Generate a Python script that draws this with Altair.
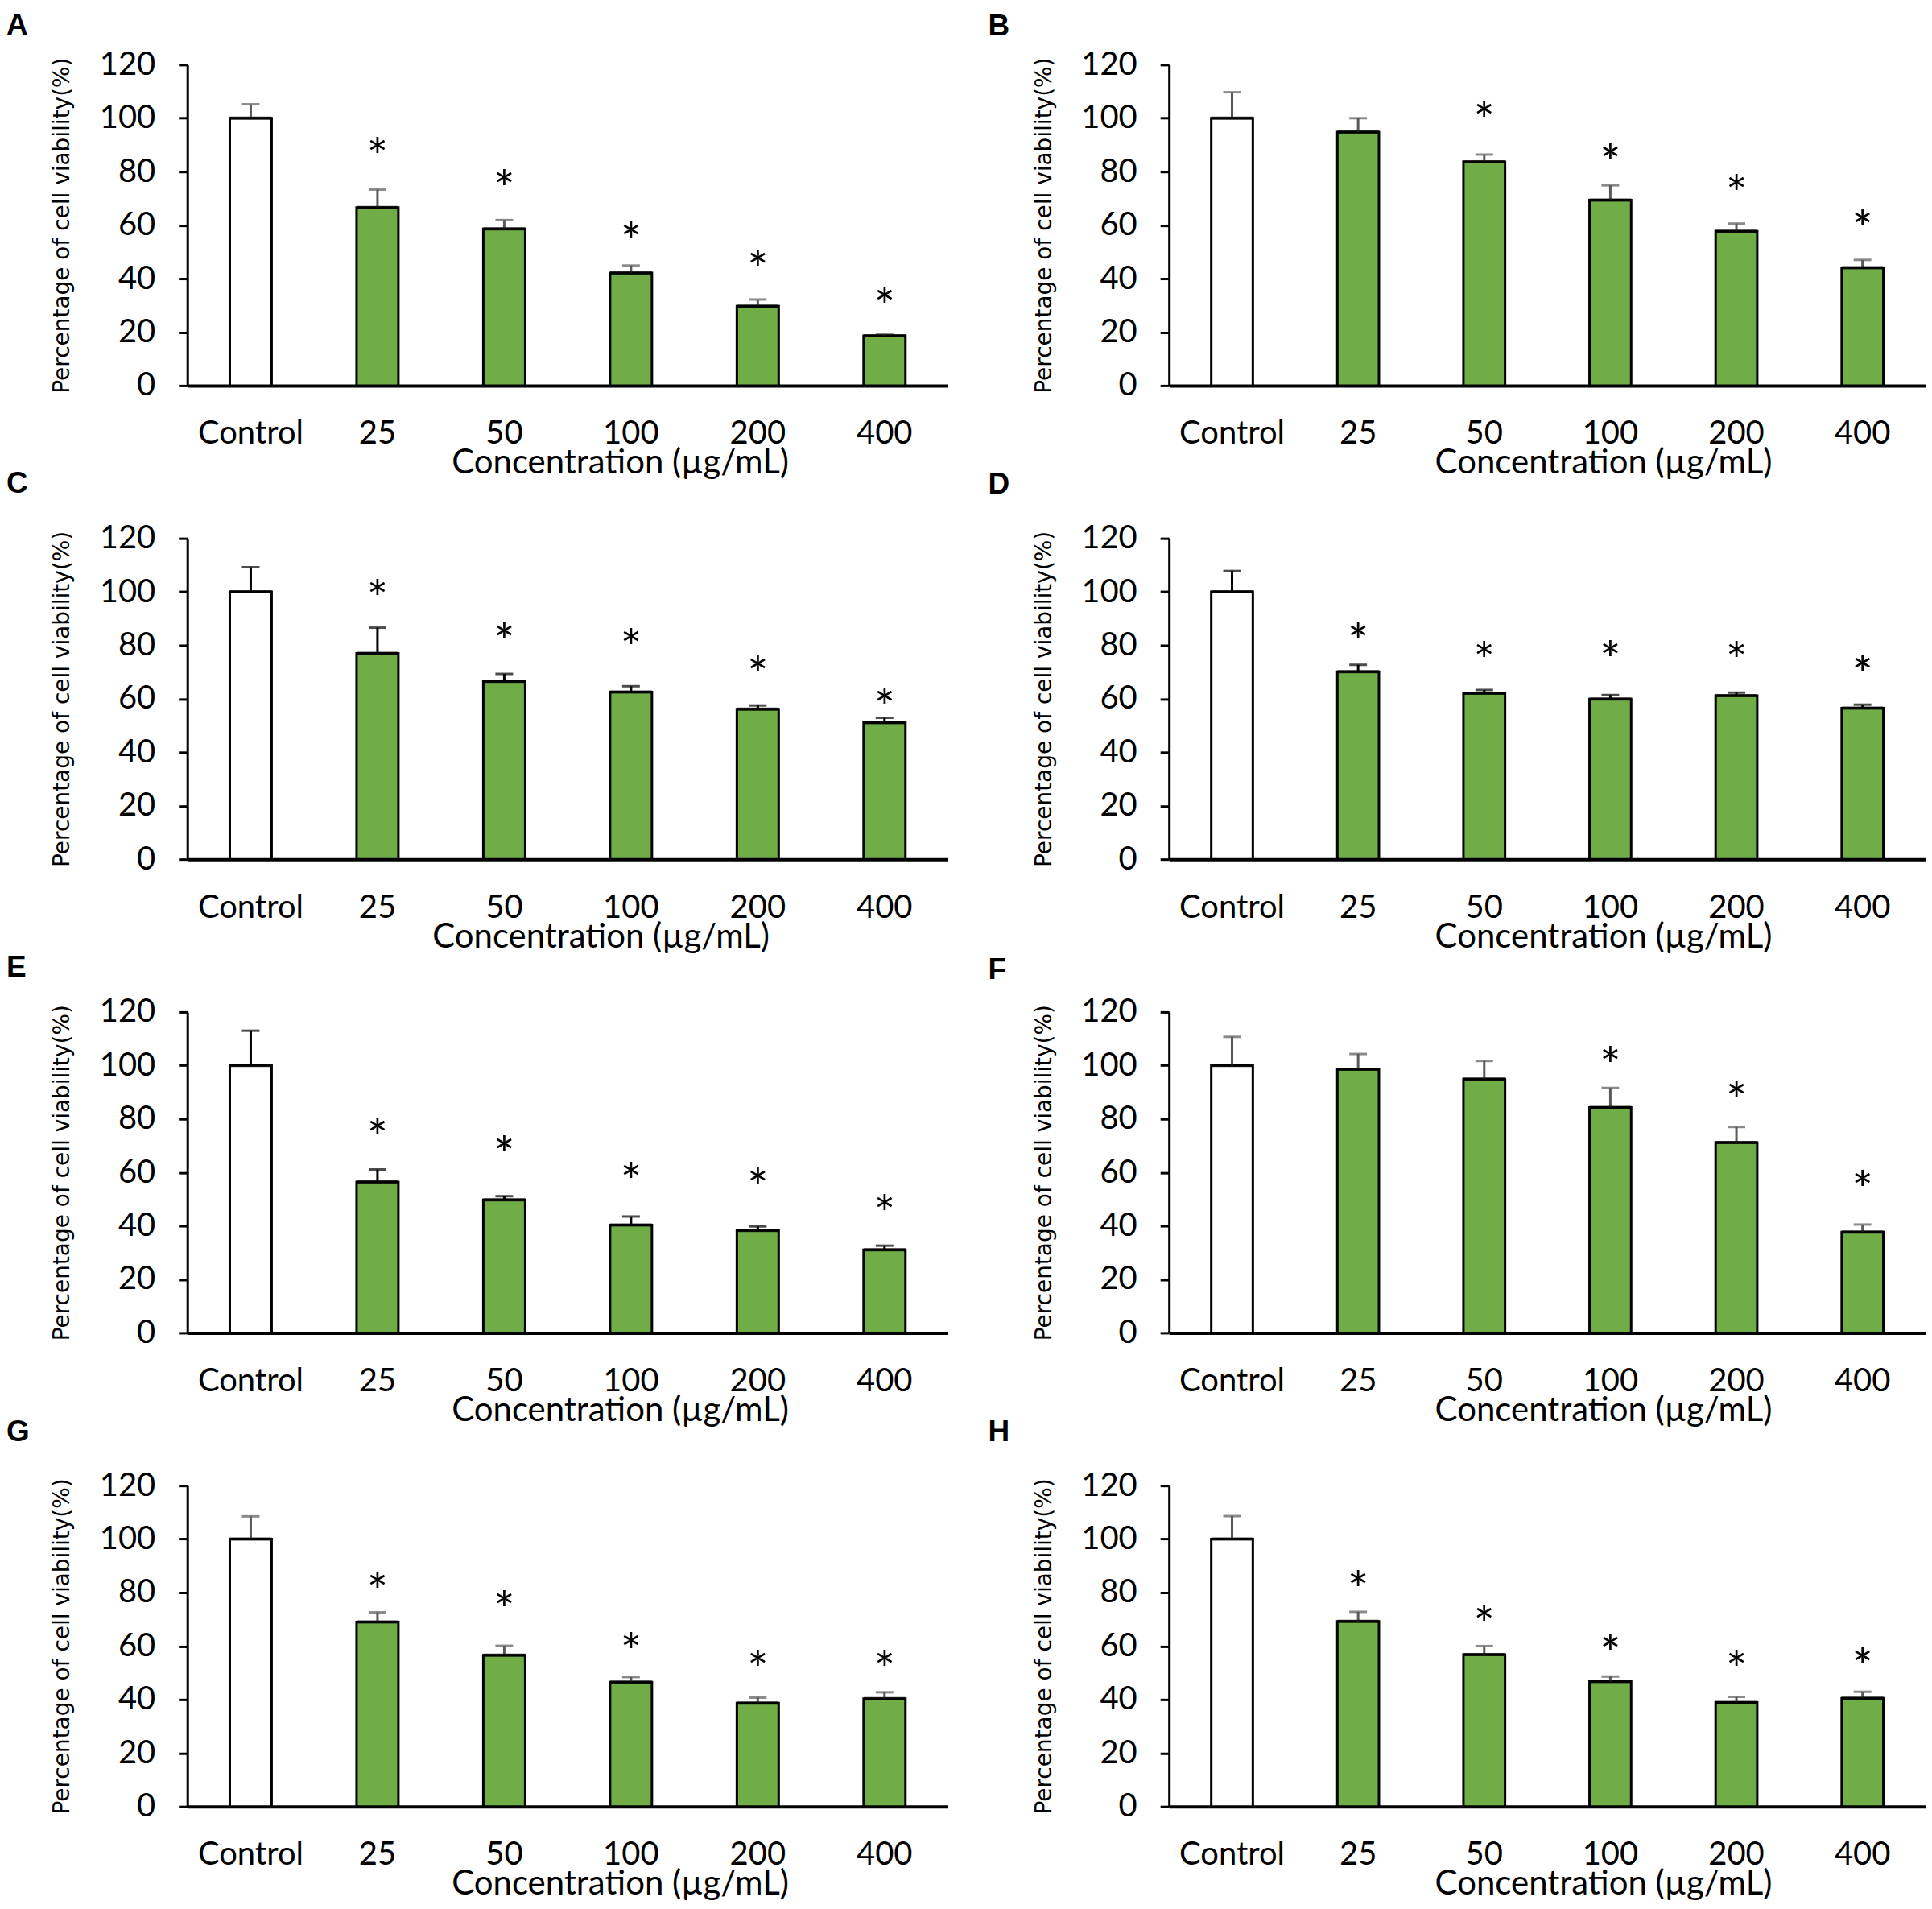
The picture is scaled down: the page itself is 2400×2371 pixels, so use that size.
import altair as alt
import pandas as pd

categories = ["Control", "25", "50", "100", "200", "400"]
panel_labels = ["A", "B", "C", "D", "E", "F", "G", "H"]

# mean values
means_A = [100.0, 66.6, 58.6, 42.1, 29.7, 18.6]
means_B = [100.0, 94.8, 83.7, 69.4, 57.7, 44.1]
means_C = [100.0, 77.0, 66.5, 62.5, 56.1, 51.1]
means_D = [100.0, 70.1, 62.1, 59.9, 61.2, 56.5]
means_E = [100.0, 56.4, 49.7, 40.3, 38.3, 31.1]
means_F = [100.0, 98.6, 94.9, 84.3, 71.2, 37.7]
means_G = [100.0, 69.0, 56.6, 46.5, 38.7, 40.3]
means_H = [100.0, 69.2, 56.8, 46.7, 38.9, 40.5]

# upper end of the error bars
errtop_A = [105.2, 73.3, 61.9, 44.9, 32.2, 19.3]
errtop_B = [109.7, 100.0, 86.4, 74.9, 60.6, 47.0]
errtop_C = [109.2, 86.6, 69.3, 64.7, 57.5, 52.9]
errtop_D = [107.8, 72.7, 63.3, 61.4, 62.3, 57.8]
errtop_E = [113.0, 61.1, 51.1, 43.5, 39.8, 32.6]
errtop_F = [110.7, 104.3, 101.7, 91.6, 77.0, 40.5]
errtop_G = [108.5, 72.6, 60.1, 48.4, 40.7, 42.7]
errtop_H = [108.6, 72.8, 60.0, 48.6, 41.0, 42.9]

# asterisk heights (None = no asterisk)
star_A = [None, 89.5, 77.2, 57.9, 47.2, 33.5]
star_B = [None, None, 103.0, 87.1, 75.6, 62.4]
star_C = [None, 101.2, 85.1, 82.7, 72.7, 60.5]
star_D = [None, 84.8, 78.1, 78.4, 78.0, 73.0]
star_E = [None, 77.0, 70.4, 60.4, 58.2, 48.2]
star_F = [None, None, None, 103.7, 90.9, 57.2]
star_G = [None, 84.2, 77.2, 61.7, 55.0, 55.1]
star_H = [None, 84.7, 72.0, 61.0, 55.0, 55.9]

all_means = [means_A, means_B, means_C, means_D, means_E, means_F, means_G, means_H]
all_tops = [errtop_A, errtop_B, errtop_C, errtop_D, errtop_E, errtop_F, errtop_G, errtop_H]
all_stars = [star_A, star_B, star_C, star_D, star_E, star_F, star_G, star_H]

err_colors = ["#595959", "#595959", "black", "black", "black", "#595959", "#595959", "#595959"]
title_offsets = [19, 18, 39, 38, 26, 23, 37, 37]
xtitle_x = [538, 540, 514, 540, 538, 540, 538, 540]
widths = [946, 941, 946, 941, 946, 941, 946, 941]

GREEN = "#70AD47"
H = 399


def panel(i):
    means = all_means[i]
    tops = all_tops[i]
    stars = all_stars[i]
    df = pd.DataFrame({
        "cat": categories,
        "mean": means,
        "top": tops,
        "fill": ["white"] + [GREEN] * 5,
    })
    sdf = pd.DataFrame({
        "cat": [c for c, s in zip(categories, stars) if s is not None],
        "star": [s for s in stars if s is not None],
    })
    xscale = alt.Scale(domain=categories, paddingInner=0.67, paddingOuter=0.335)
    x_axis = alt.Axis(
        title="Concentration (µg/mL)", labelAngle=0, ticks=False, labelPadding=40,
        labelFontSize=40, labelFont="Lato", labelColor="black",
        domainColor="black", domainWidth=4,
        titleFont="Lato", titleFontSize=42, titleFontWeight="normal", titleColor="black",
        titleX=xtitle_x[i], titleY=76, titleBaseline="top", titleAlign="center",
    )
    y_axis = alt.Axis(
        values=[0, 20, 40, 60, 80, 100, 120], title="Percentage of cell viability(%)",
        grid=False, domainColor="black", domainWidth=3, tickColor="black", tickWidth=3,
        tickSize=11, labelPadding=29, labelFont="Lato", labelFontSize=40, labelColor="black",
        titleFont="DejaVu Sans", titleFontSize=28, titleFontWeight="normal", titleColor="black",
        titleX=-155, titleY=H / 2, titleAngle=270, titleBaseline="middle", titleAlign="center",
    )
    yscale = alt.Scale(domain=[0, 120], nice=False, zero=True)

    def xe():
        return alt.X("cat:N", sort=categories, scale=xscale, axis=x_axis)

    def ye(field):
        return alt.Y(field, scale=yscale, axis=y_axis)

    base = alt.Chart(df)
    bars = base.mark_bar(stroke="black", strokeWidth=3).encode(
        x=xe(), y=ye("mean:Q"), color=alt.Color("fill:N", scale=None),
    )
    topline = base.mark_tick(color="black", thickness=4, size=52).encode(
        x=xe(), y=ye("mean:Q"),
    )
    rule = base.mark_rule(color=err_colors[i], strokeWidth=3).encode(
        x=xe(), y=ye("mean:Q"), y2="top:Q",
    )
    cap = base.mark_tick(color=err_colors[i], thickness=3, size=22).encode(
        x=xe(), y=ye("top:Q"),
    )
    star = alt.Chart(sdf).mark_text(
        text="*", font="Lato", fontSize=62, baseline="alphabetic", dy=35, color="black"
    ).encode(
        x=xe(), y=ye("star:Q"),
    )
    return alt.layer(bars, rule, cap, topline, star).properties(
        width=widths[i], height=H,
        title=alt.TitleParams(
            text=panel_labels[i], anchor="start", frame="group", dx=-225, dy=39,
            offset=title_offsets[i], baseline="alphabetic", fontSize=37,
            fontWeight="bold", font="Liberation Sans", color="black",
        ),
    )


chart = alt.concat(
    *[panel(i) for i in range(8)], columns=2,
    spacing={"row": 190, "column": 275}, bounds="flush",
).properties(
    padding={"left": 0, "top": 4, "right": 0, "bottom": 0},
    background="white",
).configure_view(strokeWidth=0)

chart.save("out.html", embed_options={"renderer": "svg", "actions": False})
